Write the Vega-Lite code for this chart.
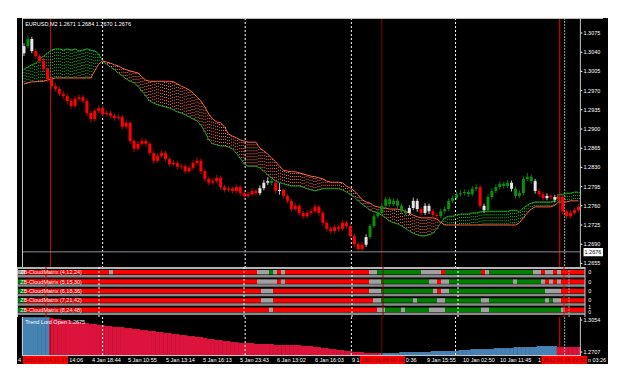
{
"$schema": "https://vega.github.io/schema/vega-lite/v6.json",
"background": "#ffffff",
"padding": {"left": 17, "top": 17, "right": 17, "bottom": 18},
"spacing": 0,
"bounds": "flush",
"config": {"view": {"stroke": null, "fill": "#000000"}, "text": {"font": "Liberation Sans", "fontSize": 5.5}, "axis": {"disable": true}},
"datasets": {
"bars": [
{"i":0,"o":1.3038,"h":1.3056,"l":1.3033,"c":1.3051,"s":"w","a":1.3009,"b":1.2982,"t":1.3085,"u":"b"},
{"i":1,"o":1.3051,"h":1.3070,"l":1.3047,"c":1.3064,"s":"g","a":1.3013,"b":1.2984,"t":1.3085,"u":"b"},
{"i":2,"o":1.3064,"h":1.3068,"l":1.3038,"c":1.3042,"s":"w","a":1.3017,"b":1.2986,"t":1.3085,"u":"b"},
{"i":3,"o":1.3042,"h":1.3046,"l":1.3028,"c":1.3033,"s":"r","a":1.3020,"b":1.2986,"t":1.3085,"u":"b"},
{"i":4,"o":1.3033,"h":1.3037,"l":1.3019,"c":1.3024,"s":"r","a":1.3028,"b":1.2987,"t":1.3085,"u":"b"},
{"i":5,"o":1.3024,"h":1.3029,"l":1.3004,"c":1.3009,"s":"r","a":1.3033,"b":1.2987,"t":1.3085,"u":"b"},
{"i":6,"o":1.3009,"h":1.3012,"l":1.2986,"c":1.2991,"s":"r","a":1.3038,"b":1.2989,"t":1.3085,"u":"b"},
{"i":7,"o":1.2991,"h":1.2996,"l":1.2972,"c":1.2978,"s":"r","a":1.3044,"b":1.2991,"t":1.3076,"u":"c"},
{"i":8,"o":1.2978,"h":1.2983,"l":1.2968,"c":1.2973,"s":"r","a":1.3046,"b":1.2993,"t":1.3065,"u":"c"},
{"i":9,"o":1.2973,"h":1.2978,"l":1.2960,"c":1.2964,"s":"r","a":1.3046,"b":1.2993,"t":1.3065,"u":"c"},
{"i":10,"o":1.2964,"h":1.2969,"l":1.2955,"c":1.2960,"s":"r","a":1.3044,"b":1.2993,"t":1.3054,"u":"c"},
{"i":11,"o":1.2960,"h":1.2965,"l":1.2946,"c":1.2951,"s":"r","a":1.3046,"b":1.2993,"t":1.3054,"u":"c"},
{"i":12,"o":1.2951,"h":1.2955,"l":1.2937,"c":1.2942,"s":"r","a":1.3044,"b":1.2993,"t":1.3043,"u":"c"},
{"i":13,"o":1.2942,"h":1.2960,"l":1.2938,"c":1.2955,"s":"r","a":1.3046,"b":1.2993,"t":1.3032,"u":"c"},
{"i":14,"o":1.2955,"h":1.2963,"l":1.2951,"c":1.2958,"s":"r","a":1.3042,"b":1.2993,"t":1.3032,"u":"c"},
{"i":15,"o":1.2958,"h":1.2962,"l":1.2947,"c":1.2951,"s":"r","a":1.3044,"b":1.2993,"t":1.3021,"u":"c"},
{"i":16,"o":1.2951,"h":1.2955,"l":1.2924,"c":1.2929,"s":"r","a":1.3046,"b":1.2993,"t":1.3021,"u":"c"},
{"i":17,"o":1.2929,"h":1.2933,"l":1.2912,"c":1.2918,"s":"r","a":1.3044,"b":1.2993,"t":1.3011,"u":"c"},
{"i":18,"o":1.2918,"h":1.2937,"l":1.2914,"c":1.2933,"s":"r","a":1.3042,"b":1.3006,"t":1.3011,"u":"c"},
{"i":19,"o":1.2933,"h":1.2943,"l":1.2929,"c":1.2938,"s":"r","a":1.3037,"b":1.3018,"t":1.3000,"u":"c"},
{"i":20,"o":1.2938,"h":1.2942,"l":1.2922,"c":1.2927,"s":"r","a":1.3024,"b":1.3024,"t":1.3000,"u":"c"},
{"i":21,"o":1.2927,"h":1.2934,"l":1.2923,"c":1.2929,"s":"r","a":1.3018,"b":1.3022,"t":1.2989,"u":"c"},
{"i":22,"o":1.2929,"h":1.2933,"l":1.2919,"c":1.2924,"s":"r","a":1.3013,"b":1.3020,"t":1.2989,"u":"c"},
{"i":23,"o":1.2924,"h":1.2928,"l":1.2915,"c":1.2920,"s":"r","a":1.3008,"b":1.3017,"t":1.2978,"u":"c"},
{"i":24,"o":1.2920,"h":1.2927,"l":1.2916,"c":1.2922,"s":"r","a":1.3002,"b":1.3015,"t":1.2978,"u":"c"},
{"i":25,"o":1.2922,"h":1.2926,"l":1.2899,"c":1.2904,"s":"r","a":1.2997,"b":1.3011,"t":1.2978,"u":"c"},
{"i":26,"o":1.2904,"h":1.2916,"l":1.2900,"c":1.2911,"s":"r","a":1.2991,"b":1.3008,"t":1.2967,"u":"c"},
{"i":27,"o":1.2911,"h":1.2914,"l":1.2873,"c":1.2878,"s":"r","a":1.2987,"b":1.3006,"t":1.2967,"u":"c"},
{"i":28,"o":1.2878,"h":1.2882,"l":1.2858,"c":1.2864,"s":"r","a":1.2984,"b":1.3004,"t":1.2956,"u":"c"},
{"i":29,"o":1.2864,"h":1.2878,"l":1.2860,"c":1.2873,"s":"r","a":1.2978,"b":1.3002,"t":1.2956,"u":"c"},
{"i":30,"o":1.2873,"h":1.2884,"l":1.2869,"c":1.2878,"s":"r","a":1.2969,"b":1.2995,"t":1.2945,"u":"c"},
{"i":31,"o":1.2878,"h":1.2882,"l":1.2868,"c":1.2873,"s":"r","a":1.2960,"b":1.2989,"t":1.2945,"u":"c"},
{"i":32,"o":1.2873,"h":1.2877,"l":1.2851,"c":1.2856,"s":"r","a":1.2951,"b":1.2987,"t":1.2935,"u":"c"},
{"i":33,"o":1.2856,"h":1.2860,"l":1.2836,"c":1.2842,"s":"r","a":1.2947,"b":1.2987,"t":1.2935,"u":"c"},
{"i":34,"o":1.2842,"h":1.2856,"l":1.2838,"c":1.2851,"s":"r","a":1.2944,"b":1.2987,"t":1.2924,"u":"c"},
{"i":35,"o":1.2851,"h":1.2861,"l":1.2847,"c":1.2856,"s":"r","a":1.2942,"b":1.2987,"t":1.2924,"u":"c"},
{"i":36,"o":1.2856,"h":1.2860,"l":1.2840,"c":1.2845,"s":"r","a":1.2940,"b":1.2987,"t":1.2913,"u":"c"},
{"i":37,"o":1.2845,"h":1.2849,"l":1.2831,"c":1.2836,"s":"r","a":1.2938,"b":1.2987,"t":1.2913,"u":"c"},
{"i":38,"o":1.2836,"h":1.2843,"l":1.2832,"c":1.2838,"s":"r","a":1.2935,"b":1.2986,"t":1.2902,"u":"c"},
{"i":39,"o":1.2838,"h":1.2842,"l":1.2826,"c":1.2831,"s":"r","a":1.2931,"b":1.2982,"t":1.2902,"u":"c"},
{"i":40,"o":1.2831,"h":1.2837,"l":1.2827,"c":1.2832,"s":"r","a":1.2929,"b":1.2978,"t":1.2891,"u":"c"},
{"i":41,"o":1.2832,"h":1.2836,"l":1.2818,"c":1.2823,"s":"r","a":1.2926,"b":1.2975,"t":1.2891,"u":"c"},
{"i":42,"o":1.2823,"h":1.2834,"l":1.2819,"c":1.2829,"s":"r","a":1.2922,"b":1.2971,"t":1.2880,"u":"c"},
{"i":43,"o":1.2829,"h":1.2843,"l":1.2825,"c":1.2838,"s":"r","a":1.2918,"b":1.2966,"t":1.2880,"u":"c"},
{"i":44,"o":1.2838,"h":1.2848,"l":1.2834,"c":1.2842,"s":"r","a":1.2915,"b":1.2958,"t":1.2870,"u":"c"},
{"i":45,"o":1.2842,"h":1.2846,"l":1.2818,"c":1.2823,"s":"r","a":1.2907,"b":1.2951,"t":1.2870,"u":"c"},
{"i":46,"o":1.2823,"h":1.2827,"l":1.2804,"c":1.2809,"s":"r","a":1.2895,"b":1.2940,"t":1.2859,"u":"c"},
{"i":47,"o":1.2809,"h":1.2813,"l":1.2797,"c":1.2802,"s":"r","a":1.2880,"b":1.2927,"t":1.2848,"u":"c"},
{"i":48,"o":1.2802,"h":1.2810,"l":1.2798,"c":1.2805,"s":"r","a":1.2873,"b":1.2918,"t":1.2848,"u":"c"},
{"i":49,"o":1.2805,"h":1.2816,"l":1.2801,"c":1.2811,"s":"r","a":1.2871,"b":1.2913,"t":1.2837,"u":"c"},
{"i":50,"o":1.2811,"h":1.2815,"l":1.2789,"c":1.2794,"s":"r","a":1.2869,"b":1.2911,"t":1.2837,"u":"c"},
{"i":51,"o":1.2794,"h":1.2798,"l":1.2784,"c":1.2789,"s":"r","a":1.2869,"b":1.2904,"t":1.2826,"u":"c"},
{"i":52,"o":1.2789,"h":1.2796,"l":1.2785,"c":1.2791,"s":"r","a":1.2867,"b":1.2891,"t":1.2826,"u":"c"},
{"i":53,"o":1.2791,"h":1.2795,"l":1.2782,"c":1.2787,"s":"r","a":1.2864,"b":1.2887,"t":1.2815,"u":"c"},
{"i":54,"o":1.2787,"h":1.2799,"l":1.2783,"c":1.2794,"s":"r","a":1.2856,"b":1.2884,"t":1.2815,"u":"c"},
{"i":55,"o":1.2794,"h":1.2798,"l":1.2778,"c":1.2783,"s":"r","a":1.2847,"b":1.2880,"t":1.2805,"u":"c"},
{"i":56,"o":1.2783,"h":1.2787,"l":1.2773,"c":1.2778,"s":"r","a":1.2836,"b":1.2878,"t":1.2805,"u":"c"},
{"i":57,"o":1.2778,"h":1.2786,"l":1.2774,"c":1.2781,"s":"r","a":1.2832,"b":1.2876,"t":1.2805,"u":"c"},
{"i":58,"o":1.2781,"h":1.2792,"l":1.2777,"c":1.2787,"s":"r","a":1.2832,"b":1.2876,"t":1.2805,"u":"c"},
{"i":59,"o":1.2787,"h":1.2791,"l":1.2778,"c":1.2783,"s":"r","a":1.2832,"b":1.2876,"t":1.2794,"u":"c"},
{"i":60,"o":1.2783,"h":1.2797,"l":1.2779,"c":1.2792,"s":"w","a":1.2829,"b":1.2865,"t":1.2794,"u":"c"},
{"i":61,"o":1.2792,"h":1.2807,"l":1.2788,"c":1.2802,"s":"w","a":1.2823,"b":1.2860,"t":1.2794,"u":"c"},
{"i":62,"o":1.2802,"h":1.2812,"l":1.2798,"c":1.2805,"s":"w","a":1.2816,"b":1.2854,"t":1.2794,"u":"c"},
{"i":63,"o":1.2805,"h":1.2809,"l":1.2797,"c":1.2802,"s":"g","a":1.2811,"b":1.2847,"t":1.2794,"u":"c"},
{"i":64,"o":1.2802,"h":1.2806,"l":1.2782,"c":1.2787,"s":"r","a":1.2805,"b":1.2840,"t":1.2783,"u":"c"},
{"i":65,"o":1.2787,"h":1.2801,"l":1.2780,"c":1.2789,"s":"w","a":1.2802,"b":1.2832,"t":1.2783,"u":"c"},
{"i":66,"o":1.2789,"h":1.2791,"l":1.2773,"c":1.2778,"s":"r","a":1.2800,"b":1.2825,"t":1.2783,"u":"c"},
{"i":67,"o":1.2778,"h":1.2782,"l":1.2764,"c":1.2769,"s":"r","a":1.2798,"b":1.2823,"t":1.2783,"u":"c"},
{"i":68,"o":1.2769,"h":1.2773,"l":1.2749,"c":1.2754,"s":"r","a":1.2796,"b":1.2822,"t":1.2783,"u":"c"},
{"i":69,"o":1.2754,"h":1.2765,"l":1.2750,"c":1.2760,"s":"r","a":1.2796,"b":1.2822,"t":1.2783,"u":"c"},
{"i":70,"o":1.2760,"h":1.2764,"l":1.2742,"c":1.2747,"s":"r","a":1.2796,"b":1.2820,"t":1.2783,"u":"c"},
{"i":71,"o":1.2747,"h":1.2751,"l":1.2736,"c":1.2741,"s":"r","a":1.2794,"b":1.2818,"t":1.2772,"u":"c"},
{"i":72,"o":1.2741,"h":1.2752,"l":1.2737,"c":1.2747,"s":"r","a":1.2791,"b":1.2816,"t":1.2772,"u":"c"},
{"i":73,"o":1.2747,"h":1.2755,"l":1.2743,"c":1.2750,"s":"r","a":1.2789,"b":1.2814,"t":1.2772,"u":"c"},
{"i":74,"o":1.2750,"h":1.2763,"l":1.2746,"c":1.2758,"s":"r","a":1.2787,"b":1.2813,"t":1.2761,"u":"c"},
{"i":75,"o":1.2758,"h":1.2762,"l":1.2742,"c":1.2747,"s":"r","a":1.2789,"b":1.2811,"t":1.2761,"u":"c"},
{"i":76,"o":1.2747,"h":1.2751,"l":1.2724,"c":1.2729,"s":"r","a":1.2791,"b":1.2809,"t":1.2750,"u":"c"},
{"i":77,"o":1.2729,"h":1.2733,"l":1.2713,"c":1.2718,"s":"r","a":1.2791,"b":1.2805,"t":1.2750,"u":"c"},
{"i":78,"o":1.2718,"h":1.2722,"l":1.2709,"c":1.2714,"s":"r","a":1.2791,"b":1.2803,"t":1.2739,"u":"c"},
{"i":79,"o":1.2714,"h":1.2726,"l":1.2710,"c":1.2721,"s":"r","a":1.2791,"b":1.2803,"t":1.2739,"u":"c"},
{"i":80,"o":1.2721,"h":1.2725,"l":1.2713,"c":1.2718,"s":"r","a":1.2791,"b":1.2803,"t":1.2729,"u":"c"},
{"i":81,"o":1.2718,"h":1.2734,"l":1.2714,"c":1.2729,"s":"r","a":1.2789,"b":1.2802,"t":1.2729,"u":"c"},
{"i":82,"o":1.2729,"h":1.2733,"l":1.2718,"c":1.2723,"s":"r","a":1.2785,"b":1.2796,"t":1.2718,"u":"c"},
{"i":83,"o":1.2723,"h":1.2727,"l":1.2700,"c":1.2705,"s":"r","a":1.2781,"b":1.2792,"t":1.2718,"u":"c"},
{"i":84,"o":1.2705,"h":1.2709,"l":1.2684,"c":1.2690,"s":"r","a":1.2776,"b":1.2787,"t":1.2707,"u":"c"},
{"i":85,"o":1.2690,"h":1.2694,"l":1.2676,"c":1.2681,"s":"r","a":1.2769,"b":1.2780,"t":1.2707,"u":"c"},
{"i":86,"o":1.2681,"h":1.2694,"l":1.2677,"c":1.2689,"s":"r","a":1.2763,"b":1.2771,"t":1.2707,"u":"c"},
{"i":87,"o":1.2689,"h":1.2708,"l":1.2685,"c":1.2703,"s":"w","a":1.2758,"b":1.2767,"t":1.2696,"u":"c"},
{"i":88,"o":1.2703,"h":1.2727,"l":1.2699,"c":1.2723,"s":"g","a":1.2752,"b":1.2765,"t":1.2696,"u":"c"},
{"i":89,"o":1.2723,"h":1.2746,"l":1.2719,"c":1.2741,"s":"g","a":1.2749,"b":1.2760,"t":1.2696,"u":"c"},
{"i":90,"o":1.2741,"h":1.2752,"l":1.2737,"c":1.2747,"s":"g","a":1.2747,"b":1.2758,"t":1.2696,"u":"c"},
{"i":91,"o":1.2747,"h":1.2765,"l":1.2743,"c":1.2760,"s":"g","a":1.2743,"b":1.2756,"t":1.2696,"u":"b"},
{"i":92,"o":1.2760,"h":1.2777,"l":1.2756,"c":1.2772,"s":"g","a":1.2738,"b":1.2756,"t":1.2696,"u":"b"},
{"i":93,"o":1.2772,"h":1.2776,"l":1.2758,"c":1.2763,"s":"g","a":1.2732,"b":1.2754,"t":1.2696,"u":"b"},
{"i":94,"o":1.2763,"h":1.2774,"l":1.2759,"c":1.2769,"s":"g","a":1.2729,"b":1.2754,"t":1.2696,"u":"b"},
{"i":95,"o":1.2769,"h":1.2773,"l":1.2755,"c":1.2760,"s":"g","a":1.2727,"b":1.2754,"t":1.2696,"u":"b"},
{"i":96,"o":1.2760,"h":1.2764,"l":1.2745,"c":1.2750,"s":"g","a":1.2723,"b":1.2752,"t":1.2707,"u":"b"},
{"i":97,"o":1.2750,"h":1.2754,"l":1.2742,"c":1.2747,"s":"g","a":1.2719,"b":1.2750,"t":1.2707,"u":"b"},
{"i":98,"o":1.2747,"h":1.2761,"l":1.2743,"c":1.2756,"s":"w","a":1.2714,"b":1.2747,"t":1.2707,"u":"b"},
{"i":99,"o":1.2756,"h":1.2775,"l":1.2752,"c":1.2769,"s":"w","a":1.2710,"b":1.2743,"t":1.2707,"u":"b"},
{"i":100,"o":1.2769,"h":1.2773,"l":1.2749,"c":1.2754,"s":"w","a":1.2707,"b":1.2740,"t":1.2707,"u":"b"},
{"i":101,"o":1.2754,"h":1.2758,"l":1.2742,"c":1.2747,"s":"r","a":1.2705,"b":1.2738,"t":1.2707,"u":"b"},
{"i":102,"o":1.2747,"h":1.2765,"l":1.2743,"c":1.2760,"s":"w","a":1.2705,"b":1.2738,"t":1.2707,"u":"b"},
{"i":103,"o":1.2760,"h":1.2764,"l":1.2745,"c":1.2750,"s":"w","a":1.2707,"b":1.2738,"t":1.2707,"u":"b"},
{"i":104,"o":1.2750,"h":1.2754,"l":1.2738,"c":1.2743,"s":"r","a":1.2710,"b":1.2738,"t":1.2718,"u":"b"},
{"i":105,"o":1.2743,"h":1.2747,"l":1.2736,"c":1.2741,"s":"r","a":1.2718,"b":1.2736,"t":1.2718,"u":"b"},
{"i":106,"o":1.2741,"h":1.2755,"l":1.2737,"c":1.2750,"s":"g","a":1.2729,"b":1.2730,"t":1.2718,"u":"b"},
{"i":107,"o":1.2750,"h":1.2759,"l":1.2746,"c":1.2754,"s":"g","a":1.2738,"b":1.2725,"t":1.2718,"u":"b"},
{"i":108,"o":1.2754,"h":1.2774,"l":1.2750,"c":1.2769,"s":"g","a":1.2741,"b":1.2725,"t":1.2718,"u":"b"},
{"i":109,"o":1.2769,"h":1.2779,"l":1.2765,"c":1.2774,"s":"g","a":1.2741,"b":1.2725,"t":1.2718,"u":"b"},
{"i":110,"o":1.2774,"h":1.2786,"l":1.2770,"c":1.2781,"s":"g","a":1.2743,"b":1.2725,"t":1.2718,"u":"b"},
{"i":111,"o":1.2781,"h":1.2788,"l":1.2777,"c":1.2783,"s":"g","a":1.2745,"b":1.2725,"t":1.2729,"u":"b"},
{"i":112,"o":1.2783,"h":1.2790,"l":1.2779,"c":1.2785,"s":"g","a":1.2745,"b":1.2725,"t":1.2729,"u":"b"},
{"i":113,"o":1.2785,"h":1.2789,"l":1.2776,"c":1.2781,"s":"g","a":1.2745,"b":1.2725,"t":1.2729,"u":"b"},
{"i":114,"o":1.2781,"h":1.2796,"l":1.2777,"c":1.2791,"s":"g","a":1.2747,"b":1.2725,"t":1.2739,"u":"b"},
{"i":115,"o":1.2791,"h":1.2799,"l":1.2787,"c":1.2794,"s":"g","a":1.2747,"b":1.2725,"t":1.2739,"u":"b"},
{"i":116,"o":1.2794,"h":1.2798,"l":1.2755,"c":1.2760,"s":"r","a":1.2749,"b":1.2725,"t":1.2739,"u":"b"},
{"i":117,"o":1.2760,"h":1.2764,"l":1.2747,"c":1.2752,"s":"w","a":1.2750,"b":1.2725,"t":1.2739,"u":"b"},
{"i":118,"o":1.2752,"h":1.2781,"l":1.2748,"c":1.2776,"s":"g","a":1.2750,"b":1.2725,"t":1.2739,"u":"b"},
{"i":119,"o":1.2776,"h":1.2792,"l":1.2772,"c":1.2787,"s":"g","a":1.2750,"b":1.2725,"t":1.2739,"u":"b"},
{"i":120,"o":1.2787,"h":1.2799,"l":1.2783,"c":1.2794,"s":"g","a":1.2750,"b":1.2725,"t":1.2750,"u":"b"},
{"i":121,"o":1.2794,"h":1.2805,"l":1.2790,"c":1.2800,"s":"g","a":1.2750,"b":1.2725,"t":1.2750,"u":"b"},
{"i":122,"o":1.2800,"h":1.2804,"l":1.2791,"c":1.2796,"s":"g","a":1.2750,"b":1.2725,"t":1.2750,"u":"b"},
{"i":123,"o":1.2796,"h":1.2807,"l":1.2792,"c":1.2802,"s":"g","a":1.2750,"b":1.2725,"t":1.2750,"u":"b"},
{"i":124,"o":1.2802,"h":1.2806,"l":1.2786,"c":1.2791,"s":"w","a":1.2752,"b":1.2725,"t":1.2750,"u":"b"},
{"i":125,"o":1.2791,"h":1.2795,"l":1.2773,"c":1.2778,"s":"g","a":1.2752,"b":1.2725,"t":1.2761,"u":"b"},
{"i":126,"o":1.2778,"h":1.2788,"l":1.2774,"c":1.2783,"s":"g","a":1.2749,"b":1.2729,"t":1.2761,"u":"b"},
{"i":127,"o":1.2783,"h":1.2814,"l":1.2779,"c":1.2809,"s":"g","a":1.2756,"b":1.2738,"t":1.2761,"u":"b"},
{"i":128,"o":1.2809,"h":1.2820,"l":1.2805,"c":1.2813,"s":"g","a":1.2761,"b":1.2747,"t":1.2761,"u":"b"},
{"i":129,"o":1.2813,"h":1.2817,"l":1.2800,"c":1.2805,"s":"g","a":1.2765,"b":1.2754,"t":1.2761,"u":"b"},
{"i":130,"o":1.2805,"h":1.2809,"l":1.2782,"c":1.2787,"s":"w","a":1.2767,"b":1.2758,"t":1.2761,"u":"b"},
{"i":131,"o":1.2787,"h":1.2791,"l":1.2776,"c":1.2781,"s":"r","a":1.2767,"b":1.2758,"t":1.2772,"u":"b"},
{"i":132,"o":1.2781,"h":1.2785,"l":1.2769,"c":1.2774,"s":"r","a":1.2767,"b":1.2758,"t":1.2772,"u":"b"},
{"i":133,"o":1.2774,"h":1.2783,"l":1.2770,"c":1.2778,"s":"w","a":1.2767,"b":1.2758,"t":1.2772,"u":"b"},
{"i":134,"o":1.2778,"h":1.2782,"l":1.2771,"c":1.2776,"s":"r","a":1.2767,"b":1.2758,"t":1.2772,"u":"b"},
{"i":135,"o":1.2776,"h":1.2780,"l":1.2766,"c":1.2771,"s":"w","a":1.2769,"b":1.2761,"t":1.2772,"u":"b"},
{"i":136,"o":1.2771,"h":1.2781,"l":1.2767,"c":1.2776,"s":"r","a":1.2781,"b":1.2767,"t":1.2761,"u":"c"},
{"i":137,"o":1.2776,"h":1.2780,"l":1.2745,"c":1.2750,"s":"r","a":1.2781,"b":1.2767,"t":1.2761,"u":"c"},
{"i":138,"o":1.2750,"h":1.2754,"l":1.2736,"c":1.2741,"s":"r","a":1.2783,"b":1.2767,"t":1.2761,"u":"c"},
{"i":139,"o":1.2741,"h":1.2752,"l":1.2737,"c":1.2747,"s":"r","a":1.2783,"b":1.2769,"t":1.2761,"u":"c"},
{"i":140,"o":1.2747,"h":1.2757,"l":1.2743,"c":1.2752,"s":"r","a":1.2785,"b":1.2769,"t":1.2761,"u":"c"},
{"i":141,"o":1.2752,"h":1.2763,"l":1.2748,"c":1.2758,"s":"r","a":1.2785,"b":1.2769,"t":1.2761,"u":"c"}
],
"strips": [
{"r":0,"x0":-0.5,"x1":1.5,"c":"n"},{"r":0,"x0":1.5,"x1":22.5,"c":"r"},{"r":0,"x0":22.5,"x1":23.5,"c":"n"},{"r":0,"x0":23.5,"x1":59.5,"c":"r"},{"r":0,"x0":59.5,"x1":62.5,"c":"n"},{"r":0,"x0":62.5,"x1":63.5,"c":"g"},{"r":0,"x0":63.5,"x1":64.5,"c":"n"},{"r":0,"x0":64.5,"x1":65.5,"c":"r"},{"r":0,"x0":65.5,"x1":66.5,"c":"n"},{"r":0,"x0":66.5,"x1":87.5,"c":"r"},{"r":0,"x0":87.5,"x1":89.5,"c":"n"},{"r":0,"x0":89.5,"x1":100.5,"c":"g"},{"r":0,"x0":100.5,"x1":105.5,"c":"n"},{"r":0,"x0":105.5,"x1":106.5,"c":"r"},{"r":0,"x0":106.5,"x1":115.5,"c":"g"},{"r":0,"x0":115.5,"x1":116.5,"c":"r"},{"r":0,"x0":116.5,"x1":117.5,"c":"n"},{"r":0,"x0":117.5,"x1":128.5,"c":"g"},{"r":0,"x0":128.5,"x1":130.5,"c":"n"},{"r":0,"x0":130.5,"x1":131.5,"c":"r"},{"r":0,"x0":131.5,"x1":133.5,"c":"n"},{"r":0,"x0":133.5,"x1":134.5,"c":"r"},{"r":0,"x0":134.5,"x1":135.5,"c":"n"},{"r":0,"x0":135.5,"x1":141.5,"c":"r"},
{"r":1,"x0":-0.5,"x1":1.5,"c":"g"},{"r":1,"x0":1.5,"x1":59.5,"c":"r"},{"r":1,"x0":59.5,"x1":64.5,"c":"n"},{"r":1,"x0":64.5,"x1":65.5,"c":"r"},{"r":1,"x0":65.5,"x1":66.5,"c":"n"},{"r":1,"x0":66.5,"x1":87.5,"c":"r"},{"r":1,"x0":87.5,"x1":90.5,"c":"n"},{"r":1,"x0":90.5,"x1":102.5,"c":"g"},{"r":1,"x0":102.5,"x1":104.5,"c":"n"},{"r":1,"x0":104.5,"x1":105.5,"c":"r"},{"r":1,"x0":105.5,"x1":107.5,"c":"n"},{"r":1,"x0":107.5,"x1":123.5,"c":"g"},{"r":1,"x0":123.5,"x1":124.5,"c":"n"},{"r":1,"x0":124.5,"x1":130.5,"c":"g"},{"r":1,"x0":130.5,"x1":131.5,"c":"n"},{"r":1,"x0":131.5,"x1":132.5,"c":"r"},{"r":1,"x0":132.5,"x1":133.5,"c":"n"},{"r":1,"x0":133.5,"x1":134.5,"c":"r"},{"r":1,"x0":134.5,"x1":135.5,"c":"n"},{"r":1,"x0":135.5,"x1":141.5,"c":"r"},
{"r":2,"x0":-0.5,"x1":1.5,"c":"g"},{"r":2,"x0":1.5,"x1":60.5,"c":"r"},{"r":2,"x0":60.5,"x1":63.5,"c":"n"},{"r":2,"x0":63.5,"x1":87.5,"c":"r"},{"r":2,"x0":87.5,"x1":90.5,"c":"n"},{"r":2,"x0":90.5,"x1":103.5,"c":"g"},{"r":2,"x0":103.5,"x1":104.5,"c":"n"},{"r":2,"x0":104.5,"x1":105.5,"c":"r"},{"r":2,"x0":105.5,"x1":107.5,"c":"n"},{"r":2,"x0":107.5,"x1":131.5,"c":"g"},{"r":2,"x0":131.5,"x1":135.5,"c":"n"},{"r":2,"x0":135.5,"x1":141.5,"c":"r"},
{"r":3,"x0":-0.5,"x1":1.5,"c":"g"},{"r":3,"x0":1.5,"x1":60.5,"c":"r"},{"r":3,"x0":60.5,"x1":63.5,"c":"n"},{"r":3,"x0":63.5,"x1":88.5,"c":"r"},{"r":3,"x0":88.5,"x1":90.5,"c":"n"},{"r":3,"x0":90.5,"x1":98.5,"c":"g"},{"r":3,"x0":98.5,"x1":99.5,"c":"n"},{"r":3,"x0":99.5,"x1":104.5,"c":"g"},{"r":3,"x0":104.5,"x1":106.5,"c":"n"},{"r":3,"x0":106.5,"x1":115.5,"c":"g"},{"r":3,"x0":115.5,"x1":117.5,"c":"n"},{"r":3,"x0":117.5,"x1":131.5,"c":"g"},{"r":3,"x0":131.5,"x1":132.5,"c":"n"},{"r":3,"x0":132.5,"x1":133.5,"c":"g"},{"r":3,"x0":133.5,"x1":135.5,"c":"n"},{"r":3,"x0":135.5,"x1":141.5,"c":"r"},
{"r":4,"x0":-0.5,"x1":1.5,"c":"g"},{"r":4,"x0":1.5,"x1":62.5,"c":"r"},{"r":4,"x0":62.5,"x1":63.5,"c":"n"},{"r":4,"x0":63.5,"x1":89.5,"c":"r"},{"r":4,"x0":89.5,"x1":91.5,"c":"n"},{"r":4,"x0":91.5,"x1":95.5,"c":"g"},{"r":4,"x0":95.5,"x1":96.5,"c":"n"},{"r":4,"x0":96.5,"x1":102.5,"c":"g"},{"r":4,"x0":102.5,"x1":106.5,"c":"n"},{"r":4,"x0":106.5,"x1":115.5,"c":"g"},{"r":4,"x0":115.5,"x1":117.5,"c":"n"},{"r":4,"x0":117.5,"x1":135.5,"c":"g"},{"r":4,"x0":135.5,"x1":136.5,"c":"n"},{"r":4,"x0":136.5,"x1":141.5,"c":"r"}
],
"zl": [
{"r":0,"t":"ZB-CloudMatrix (4,12,24)"},{"r":1,"t":"ZB-CloudMatrix (5,15,30)"},{"r":2,"t":"ZB-CloudMatrix (6,18,36)"},{"r":3,"t":"ZB-CloudMatrix (7,21,42)"},{"r":4,"t":"ZB-CloudMatrix (8,24,48)"}
],
"vl": [
{"i":6.75,"k":"r1"},{"i":20,"k":"d"},{"i":56.25,"k":"d"},{"i":83.25,"k":"d"},{"i":91,"k":"r2"},{"i":109.75,"k":"d"},{"i":136.25,"k":"r3"},{"i":137.5,"k":"g"}
],
"pl": [
{"p":1.3075},{"p":1.3040},{"p":1.3005},{"p":1.2970},{"p":1.2935},{"p":1.2900},{"p":1.2865},{"p":1.2830},{"p":1.2795},{"p":1.2760},{"p":1.2725},{"p":1.2690},{"p":1.2655}
],
"tl": [
{"p":1.3054},{"p":1.2707}
],
"xl": [
{"i":-0.25,"t":"4"},{"i":12.55,"t":"14:06"},{"i":18.25,"t":"4 Jan 18:44"},{"i":27.25,"t":"5 Jan 10:55"},{"i":36.75,"t":"5 Jan 13:14"},{"i":46,"t":"5 Jan 16:13"},{"i":55.25,"t":"5 Jan 23:43"},{"i":64.5,"t":"6 Jan 13:02"},{"i":74,"t":"6 Jan 16:03"},{"i":83.25,"t":"9 1"},{"i":96.7,"t":"0:36"},{"i":102,"t":"9 Jan 15:55"},{"i":111,"t":"10 Jan 02:50"},{"i":120.25,"t":"10 Jan 11:45"},{"i":129.75,"t":"1"},{"i":142.2,"t":"n 03:26"}
],
"boxes": [
{"x0":1.0,"x1":12.25,"tx":1.3,"t":"2012.01.04 13:17"},{"x0":85.25,"x1":96.5,"tx":85.55,"t":"2012.01.09 00:10"},{"x0":130.6,"x1":142.0,"tx":130.95,"t":"2012.01.10 22:37"}
]
},
"vconcat": [
{
"width": 591, "height": 249,
"layer": [
{"data": {"name": "vl"}, "mark": {"type": "rule", "strokeWidth": 1},
 "encoding": {
  "x": {"field": "i", "type": "quantitative", "scale": {"domain": [-0.5, 147.25], "nice": false, "zero": false}, "axis": null, "title": null},
  "color": {"condition": [{"test": "datum.k=='r1'", "value": "#c80000"}, {"test": "datum.k=='r2'", "value": "#8b0000"}, {"test": "datum.k=='r3'", "value": "#ff0000"}, {"test": "datum.k=='g'", "value": "#a0a0a0"}], "value": "#ffffff"},
  "strokeDash": {"condition": [{"test": "datum.k=='d'", "value": [2, 2]}, {"test": "datum.k=='g'", "value": [2, 1]}], "value": [1, 0]}}},
{"data": {"name": "bars"}, "mark": {"type": "rule", "strokeDash": [1, 2], "strokeWidth": 1, "xOffset": -1},
 "encoding": {
  "x": {"field": "i", "type": "quantitative", "title": null},
  "y": {"field": "a", "type": "quantitative", "scale": {"domain": [1.26484, 1.31023], "nice": false, "zero": false}, "axis": null, "title": null},
  "y2": {"field": "b"},
  "color": {"condition": {"test": "datum.a>=datum.b", "value": "#18c018"}, "value": "#ff6a4a"}}},
{"data": {"name": "bars"}, "mark": {"type": "rule", "strokeDash": [1, 2], "strokeWidth": 1, "xOffset": 1},
 "encoding": {
  "x": {"field": "i", "type": "quantitative", "title": null},
  "y": {"field": "a", "type": "quantitative", "title": null},
  "y2": {"field": "b"},
  "color": {"condition": {"test": "datum.a>=datum.b", "value": "#18c018"}, "value": "#ff6a4a"}}},
{"data": {"name": "bars"}, "mark": {"type": "line", "color": "#19a019", "strokeWidth": 1},
 "encoding": {"x": {"field": "i", "type": "quantitative", "title": null}, "y": {"field": "a", "type": "quantitative", "title": null}}},
{"data": {"name": "bars"}, "mark": {"type": "line", "color": "#ff6347", "strokeWidth": 1},
 "encoding": {"x": {"field": "i", "type": "quantitative", "title": null}, "y": {"field": "b", "type": "quantitative", "title": null}}},
{"data": {"name": "bars"}, "mark": {"type": "rule", "strokeWidth": 1},
 "encoding": {
  "x": {"field": "i", "type": "quantitative", "title": null},
  "y": {"field": "l", "type": "quantitative", "title": null},
  "y2": {"field": "h"},
  "color": {"condition": [{"test": "datum.s=='r'", "value": "#c00000"}, {"test": "datum.s=='g'", "value": "#0b7a0b"}], "value": "#bdbdbd"}}},
{"data": {"name": "bars"}, "mark": {"type": "bar", "size": 3},
 "encoding": {
  "x": {"field": "i", "type": "quantitative", "title": null},
  "y": {"field": "o", "type": "quantitative", "title": null},
  "y2": {"field": "c"},
  "color": {"condition": [{"test": "datum.s=='r'", "value": "#ff0000"}, {"test": "datum.s=='g'", "value": "#0b8f0b"}], "value": "#e6e6e6"}}},
{"data": {"values": [{}]}, "mark": {"type": "rule", "color": "#8c8c9a", "strokeWidth": 1},
 "encoding": {"x": {"datum": -0.5, "type": "quantitative"}, "x2": {"datum": 141.5}, "y": {"datum": 1.2676, "type": "quantitative"}}},
{"data": {"name": "pl"}, "mark": {"type": "rule", "color": "#ffffff", "strokeWidth": 1},
 "encoding": {"x": {"datum": 141.5, "type": "quantitative"}, "x2": {"datum": 142.0}, "y": {"field": "p", "type": "quantitative"}}},
{"data": {"name": "pl"}, "mark": {"type": "text", "align": "left", "baseline": "middle", "color": "#ffffff", "fontSize": 5.5},
 "encoding": {"x": {"datum": 142.3, "type": "quantitative"}, "y": {"field": "p", "type": "quantitative"}, "text": {"field": "p", "type": "quantitative", "format": ".4f"}}},
{"data": {"values": [{}]}, "mark": {"type": "rect", "color": "#ffffff"},
 "encoding": {"x": {"datum": 142.3, "type": "quantitative"}, "x2": {"datum": 147.25}, "y": {"datum": 1.2683, "type": "quantitative"}, "y2": {"datum": 1.2668}}},
{"data": {"values": [{}]}, "mark": {"type": "text", "align": "left", "baseline": "middle", "color": "#000000", "fontSize": 5.5},
 "encoding": {"x": {"datum": 142.55, "type": "quantitative"}, "y": {"datum": 1.2676, "type": "quantitative"}, "text": {"value": "1.2676"}}},
{"data": {"values": [{}]}, "mark": {"type": "text", "align": "left", "baseline": "middle", "color": "#ffffff", "fontSize": 5.5},
 "encoding": {"x": {"datum": 0.3, "type": "quantitative"}, "y": {"datum": 1.3092, "type": "quantitative"}, "text": {"value": "EURUSD,M2  1.2671 1.2684 1.2670 1.2676"}}},
{"data": {"values": [{}]}, "mark": {"type": "rule", "color": "#c8c8c8", "strokeWidth": 1},
 "encoding": {"x": {"datum": 141.5, "type": "quantitative"}}},
{"data": {"values": [{}]}, "mark": {"type": "rule", "color": "#c8c8c8", "strokeWidth": 1},
 "encoding": {"x": {"datum": -0.375, "type": "quantitative"}}},
{"data": {"values": [{}]}, "mark": {"type": "rule", "color": "#c8c8c8", "strokeWidth": 1},
 "encoding": {"x": {"datum": -0.5, "type": "quantitative"}, "x2": {"datum": 147.25}, "y": {"datum": 1.31015, "type": "quantitative"}}}
]
},
{
"width": 591, "height": 50,
"layer": [
{"data": {"name": "zl"}, "transform": [{"filter": "datum.r==0"}], "mark": {"type": "bar", "size": 2, "yOffset": -3.7, "color": "#b4b4b4"},
 "encoding": {
  "x": {"datum": -0.5, "type": "quantitative", "scale": {"domain": [-0.5, 147.25], "nice": false, "zero": false}, "axis": null},
  "x2": {"datum": 141.5},
  "y": {"field": "r", "type": "ordinal", "scale": {"domain": [0, 1, 2, 3, 4], "paddingInner": 0, "paddingOuter": 0.16, "align": 0, "round": false}, "axis": null, "title": null}}},
{"data": {"name": "zl"}, "mark": {"type": "bar", "size": 2.5, "yOffset": 4.5, "color": "#8a8a8a"},
 "encoding": {"x": {"datum": -0.5, "type": "quantitative"}, "x2": {"datum": 141.5}, "y": {"field": "r", "type": "ordinal"}}},
{"data": {"name": "strips"}, "mark": {"type": "bar", "size": 4.5, "yOffset": 0.5},
 "encoding": {
  "x": {"field": "x0", "type": "quantitative", "title": null},
  "x2": {"field": "x1"},
  "y": {"field": "r", "type": "ordinal"},
  "color": {"condition": [{"test": "datum.c=='r'", "value": "#ff0000"}, {"test": "datum.c=='g'", "value": "#008000"}], "value": "#a0a0a0"}}},
{"data": {"name": "vl"}, "mark": {"type": "rule", "strokeWidth": 1},
 "encoding": {
  "x": {"field": "i", "type": "quantitative"},
  "color": {"condition": [{"test": "datum.k=='r1'", "value": "#c80000"}, {"test": "datum.k=='r2'", "value": "#8b0000"}, {"test": "datum.k=='r3'", "value": "#ff0000"}, {"test": "datum.k=='g'", "value": "#a0a0a0"}], "value": "#ffffff"},
  "strokeDash": {"condition": [{"test": "datum.k=='d'", "value": [2, 2]}, {"test": "datum.k=='g'", "value": [2, 1]}], "value": [1, 0]}}},
{"data": {"name": "zl"}, "mark": {"type": "text", "align": "left", "baseline": "middle", "yOffset": 0.5, "color": "#f0f0f0", "fontSize": 5.5},
 "encoding": {"x": {"datum": 0.3, "type": "quantitative"}, "y": {"field": "r", "type": "ordinal"}, "text": {"field": "t"}}},
{"data": {"name": "zl"}, "transform": [{"filter": "datum.r<4"}], "mark": {"type": "text", "align": "left", "baseline": "middle", "yOffset": 0.5, "color": "#ffffff", "fontSize": 5.5},
 "encoding": {"x": {"datum": 142.3, "type": "quantitative"}, "y": {"field": "r", "type": "ordinal"}, "text": {"value": "0"}}},
{"data": {"name": "zl"}, "transform": [{"filter": "datum.r==4"}], "mark": {"type": "text", "align": "left", "baseline": "middle", "yOffset": -2.2, "color": "#ffffff", "fontSize": 5},
 "encoding": {"x": {"datum": 142.3, "type": "quantitative"}, "y": {"field": "r", "type": "ordinal"}, "text": {"value": "1"}}},
{"data": {"name": "zl"}, "transform": [{"filter": "datum.r==4"}], "mark": {"type": "text", "align": "left", "baseline": "middle", "yOffset": 3.0, "color": "#ffffff", "fontSize": 5},
 "encoding": {"x": {"datum": 142.3, "type": "quantitative"}, "y": {"field": "r", "type": "ordinal"}, "text": {"value": "0"}}},
{"data": {"values": [{}]}, "mark": {"type": "rule", "color": "#c8c8c8", "strokeWidth": 1},
 "encoding": {"x": {"datum": 141.5, "type": "quantitative"}}},
{"data": {"values": [{}]}, "mark": {"type": "rule", "color": "#c8c8c8", "strokeWidth": 1},
 "encoding": {"x": {"datum": -0.375, "type": "quantitative"}}}
]
},
{
"width": 591, "height": 39,
"layer": [
{"data": {"name": "bars"}, "mark": {"type": "bar", "size": 4.3},
 "encoding": {
  "x": {"field": "i", "type": "quantitative", "scale": {"domain": [-0.5, 147.25], "nice": false, "zero": false}, "axis": null, "title": null},
  "y": {"field": "t", "type": "quantitative", "scale": {"domain": [1.2664, 1.3087], "nice": false, "zero": false}, "axis": null, "title": null},
  "y2": {"datum": 1.2664},
  "color": {"condition": {"test": "datum.u=='b'", "value": "#4682b4"}, "value": "#dc143c"}}},
{"data": {"name": "vl"}, "mark": {"type": "rule", "strokeWidth": 1},
 "encoding": {
  "x": {"field": "i", "type": "quantitative"},
  "color": {"condition": [{"test": "datum.k=='r1'", "value": "#c80000"}, {"test": "datum.k=='r2'", "value": "#8b0000"}, {"test": "datum.k=='r3'", "value": "#ff0000"}, {"test": "datum.k=='g'", "value": "#a0a0a0"}], "value": "#ffffff"},
  "strokeDash": {"condition": [{"test": "datum.k=='d'", "value": [2, 2]}, {"test": "datum.k=='g'", "value": [2, 1]}], "value": [1, 0]}}},
{"data": {"name": "tl"}, "mark": {"type": "rule", "color": "#ffffff", "strokeWidth": 1},
 "encoding": {"x": {"datum": 141.5}, "x2": {"datum": 142.0}, "y": {"field": "p", "type": "quantitative"}}},
{"data": {"name": "tl"}, "mark": {"type": "text", "align": "left", "baseline": "middle", "color": "#ffffff", "fontSize": 5.5},
 "encoding": {"x": {"datum": 142.3}, "y": {"field": "p", "type": "quantitative"}, "text": {"field": "p", "type": "quantitative", "format": ".4f"}}},
{"data": {"values": [{}]}, "mark": {"type": "text", "align": "left", "baseline": "middle", "color": "#ffffff", "fontSize": 5.5},
 "encoding": {"x": {"datum": 0.3}, "y": {"datum": 1.3035}, "text": {"value": "Trend Lord Open 1.2675"}}},
{"data": {"values": [{}]}, "mark": {"type": "rule", "color": "#c8c8c8", "strokeWidth": 1},
 "encoding": {"x": {"datum": 141.5}}},
{"data": {"values": [{}]}, "mark": {"type": "rule", "color": "#c8c8c8", "strokeWidth": 1},
 "encoding": {"x": {"datum": -0.375}}},
{"data": {"values": [{}]}, "mark": {"type": "rule", "color": "#c8c8c8", "strokeWidth": 1},
 "encoding": {"x": {"datum": -0.5}, "x2": {"datum": 141.5}, "y": {"datum": 1.2669}}}
]
},
{
"width": 591, "height": 8,
"layer": [
{"data": {"name": "xl"}, "mark": {"type": "text", "align": "left", "baseline": "middle", "color": "#ffffff", "fontSize": 5.5},
 "encoding": {"x": {"field": "i", "type": "quantitative", "scale": {"domain": [-0.5, 147.25], "nice": false, "zero": false}, "axis": null, "title": null}, "text": {"field": "t"}}},
{"data": {"name": "boxes"}, "mark": {"type": "rect", "color": "#ff0000"},
 "encoding": {"x": {"field": "x0", "type": "quantitative"}, "x2": {"field": "x1"}}},
{"data": {"name": "boxes"}, "mark": {"type": "text", "align": "left", "baseline": "middle", "color": "#600000", "fontSize": 5.5},
 "encoding": {"x": {"field": "tx", "type": "quantitative"}, "text": {"field": "t"}}}
]
}
],
"resolve": {"scale": {"x": "independent", "y": "independent"}}
}
